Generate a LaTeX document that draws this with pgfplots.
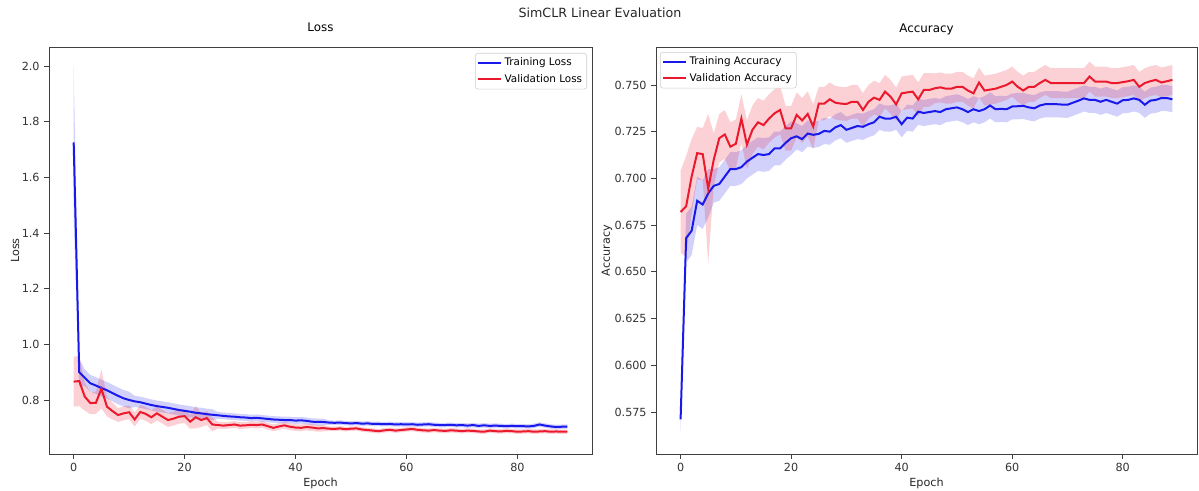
\documentclass[border=0pt]{standalone}
\usepackage{pgfplots}
\pgfplotsset{compat=1.18}
\usepackage{pgfplotstable}
\usepgfplotslibrary{fillbetween}
\usepackage{fontspec}
\setmainfont{DejaVu Sans}

\definecolor{mblue}{RGB}{25,25,235}
\definecolor{mred}{RGB}{235,25,45}

% ep: epoch, tl/vl: train/val loss, ta/va: train/val accuracy, *w: half band
\pgfplotstableread{
ep tl tlw vl vlw ta taw va vaw
0 1.725 0.275 0.866 0.090 0.571 0.008 0.682 0.022
1 0.900 0.050 0.868 0.090 0.668 0.013 0.685 0.027
2 0.880 0.030 0.812 0.050 0.672 0.013 0.701 0.020
3 0.860 0.030 0.789 0.040 0.688 0.013 0.7135 0.014
4 0.852 0.030 0.790 0.040 0.686 0.013 0.713 0.014
5 0.843 0.030 0.840 0.070 0.692 0.013 0.6945 0.040
6 0.835 0.030 0.776 0.035 0.696 0.009 0.710 0.014
7 0.825 0.030 0.760 0.030 0.697 0.009 0.7215 0.013
8 0.815 0.030 0.746 0.025 0.701 0.009 0.7235 0.013
9 0.806 0.030 0.752 0.025 0.705 0.009 0.717 0.013
10 0.800 0.030 0.756 0.025 0.705 0.009 0.7185 0.013
11 0.795 0.020 0.730 0.025 0.706 0.009 0.732 0.013
12 0.792 0.020 0.757 0.025 0.709 0.009 0.718 0.013
13 0.787 0.020 0.750 0.025 0.711 0.009 0.726 0.013
14 0.782 0.020 0.738 0.025 0.713 0.009 0.730 0.013
15 0.778 0.020 0.752 0.025 0.7125 0.009 0.7285 0.013
16 0.775 0.020 0.740 0.025 0.713 0.009 0.732 0.013
17 0.772 0.020 0.728 0.025 0.716 0.009 0.7348 0.013
18 0.768 0.020 0.733 0.025 0.716 0.009 0.7366 0.013
19 0.764 0.020 0.740 0.025 0.719 0.009 0.7268 0.012
20 0.761 0.020 0.742 0.025 0.7215 0.009 0.7268 0.012
21 0.758 0.020 0.722 0.025 0.7225 0.007 0.734 0.012
22 0.754 0.020 0.738 0.040 0.721 0.007 0.731 0.012
23 0.752 0.020 0.728 0.025 0.724 0.007 0.7345 0.012
24 0.749 0.020 0.735 0.025 0.7233 0.007 0.7277 0.012
25 0.747 0.020 0.712 0.025 0.7238 0.007 0.740 0.009
26 0.745 0.012 0.710 0.012 0.7254 0.007 0.740 0.009
27 0.743 0.012 0.708 0.012 0.725 0.007 0.7423 0.009
28 0.741 0.012 0.710 0.012 0.7273 0.007 0.7405 0.009
29 0.740 0.012 0.712 0.012 0.7285 0.007 0.740 0.009
30 0.738 0.012 0.708 0.012 0.726 0.007 0.7398 0.009
31 0.737 0.012 0.709 0.012 0.727 0.007 0.741 0.009
32 0.735 0.012 0.711 0.012 0.728 0.007 0.741 0.009
33 0.736 0.012 0.710 0.012 0.7276 0.007 0.7366 0.009
34 0.734 0.012 0.712 0.012 0.729 0.007 0.741 0.009
35 0.732 0.012 0.706 0.012 0.730 0.007 0.7432 0.009
36 0.730 0.012 0.700 0.012 0.733 0.007 0.742 0.009
37 0.729 0.012 0.705 0.012 0.732 0.007 0.7464 0.009
38 0.728 0.012 0.709 0.012 0.732 0.007 0.7437 0.009
39 0.728 0.012 0.704 0.012 0.733 0.007 0.7396 0.009
40 0.726 0.012 0.701 0.012 0.729 0.007 0.7455 0.009
41 0.727 0.012 0.700 0.012 0.7325 0.007 0.746 0.009
42 0.725 0.012 0.703 0.012 0.732 0.007 0.7464 0.009
43 0.722 0.012 0.701 0.012 0.7357 0.007 0.7423 0.009
44 0.721 0.012 0.698 0.012 0.735 0.007 0.7473 0.009
45 0.721 0.012 0.699 0.012 0.7355 0.007 0.7473 0.009
46 0.719 0.008 0.697 0.008 0.736 0.007 0.7482 0.008
47 0.718 0.008 0.696 0.008 0.7355 0.007 0.7487 0.008
48 0.719 0.008 0.698 0.008 0.737 0.007 0.748 0.008
49 0.717 0.008 0.695 0.008 0.7375 0.007 0.748 0.008
50 0.716 0.008 0.697 0.008 0.738 0.007 0.749 0.008
51 0.717 0.008 0.698 0.008 0.737 0.007 0.749 0.008
52 0.715 0.008 0.694 0.008 0.7355 0.007 0.747 0.008
53 0.716 0.008 0.692 0.008 0.737 0.007 0.7455 0.008
54 0.714 0.008 0.690 0.008 0.736 0.007 0.7513 0.008
55 0.714 0.008 0.688 0.008 0.737 0.007 0.747 0.008
56 0.713 0.008 0.691 0.008 0.739 0.007 0.7475 0.008
57 0.714 0.008 0.693 0.008 0.737 0.007 0.748 0.008
58 0.712 0.008 0.690 0.008 0.7372 0.007 0.749 0.008
59 0.713 0.008 0.692 0.008 0.737 0.007 0.750 0.008
60 0.712 0.008 0.694 0.008 0.7385 0.007 0.7518 0.008
61 0.713 0.008 0.696 0.008 0.7386 0.007 0.749 0.008
62 0.711 0.008 0.693 0.008 0.7388 0.007 0.747 0.008
63 0.712 0.008 0.691 0.008 0.738 0.007 0.749 0.008
64 0.713 0.008 0.690 0.008 0.7375 0.007 0.749 0.008
65 0.711 0.008 0.692 0.008 0.739 0.007 0.751 0.008
66 0.710 0.008 0.690 0.008 0.7397 0.007 0.7527 0.008
67 0.710 0.008 0.689 0.008 0.7397 0.007 0.751 0.008
68 0.711 0.008 0.691 0.008 0.7397 0.007 0.751 0.008
69 0.709 0.008 0.690 0.008 0.7395 0.007 0.751 0.008
70 0.710 0.008 0.688 0.008 0.7394 0.007 0.751 0.008
71 0.708 0.008 0.690 0.008 0.7405 0.007 0.751 0.008
72 0.710 0.008 0.689 0.008 0.7416 0.007 0.751 0.008
73 0.707 0.008 0.687 0.008 0.7428 0.007 0.751 0.008
74 0.709 0.008 0.686 0.008 0.742 0.007 0.7545 0.008
75 0.707 0.008 0.690 0.008 0.742 0.007 0.7518 0.008
76 0.708 0.008 0.688 0.008 0.741 0.007 0.7518 0.008
77 0.707 0.008 0.687 0.008 0.742 0.007 0.7518 0.008
78 0.706 0.008 0.689 0.008 0.741 0.007 0.751 0.008
79 0.707 0.008 0.688 0.008 0.740 0.007 0.751 0.008
80 0.706 0.008 0.686 0.008 0.7418 0.007 0.7515 0.008
81 0.706 0.008 0.687 0.008 0.742 0.007 0.752 0.008
82 0.705 0.008 0.688 0.008 0.7428 0.007 0.7527 0.008
83 0.707 0.008 0.686 0.008 0.742 0.007 0.749 0.008
84 0.712 0.008 0.687 0.008 0.7394 0.007 0.751 0.008
85 0.708 0.008 0.688 0.008 0.7416 0.007 0.752 0.008
86 0.705 0.008 0.686 0.008 0.742 0.007 0.7527 0.008
87 0.703 0.008 0.687 0.008 0.743 0.007 0.7513 0.008
88 0.704 0.008 0.686 0.008 0.743 0.007 0.752 0.008
89 0.704 0.008 0.686 0.008 0.7423 0.007 0.7527 0.008
}\data

\pgfplotsset{
  every axis/.append style={
    scale only axis,
    height=305.25pt,
    xmin=-4.45, xmax=93.45,
    axis line style={black!75, line width=0.6pt},
    tick style={black!75, line width=0.6pt},
    tick align=outside,
    major tick length=3.5pt,
    xtick pos=bottom, ytick pos=left,
    xtick={0,20,40,60,80},
    /pgf/number format/assume math mode=true,
    tick label style={font=\fontsize{8.4}{10}\selectfont, text=black!80},
    label style={font=\fontsize{8.4}{10}\selectfont, text=black!85},
    title style={font=\fontsize{8.9}{10}\selectfont, at={(0.5,1)}, anchor=base, yshift=5.25pt},
    xlabel style={at={(axis description cs:0.5,0)}, anchor=base, yshift=-24.5pt},
    legend style={font=\fontsize{7.8}{9}\selectfont, draw=black!20, rounded corners=2pt,
      inner sep=1.5pt, row sep=1pt},
    legend cell align=left,
    legend image code/.code={\draw[#1] (0pt,0pt) -- (17pt,0pt);},
  }
}

\begin{document}
\begin{tikzpicture}
\begin{axis}[
  width=407.25pt,
  ymin=0.606, ymax=2.068,
  ytick={0.8,1.0,1.2,1.4,1.6,1.8,2.0},
  yticklabel style={/pgf/number format/.cd, fixed, fixed zerofill, precision=1},
  title={Loss}, xlabel={Epoch}, ylabel={Loss},
  ylabel style={at={(axis description cs:-0.0626,0.5)}, anchor=center},
  legend style={at={(1,1)}, anchor=north east, xshift=-3.75pt, yshift=-4.5pt},
]
\addplot[name path=tlu, draw=none, forget plot] table[x=ep, y expr=\thisrow{tl}+\thisrow{tlw}] {\data};
\addplot[name path=tll, draw=none, forget plot] table[x=ep, y expr=\thisrow{tl}-\thisrow{tlw}] {\data};
\addplot[mblue, fill opacity=0.2, draw=none, forget plot] fill between[of=tlu and tll];
\addplot[name path=vlu, draw=none, forget plot] table[x=ep, y expr=\thisrow{vl}+\thisrow{vlw}] {\data};
\addplot[name path=vll, draw=none, forget plot] table[x=ep, y expr=\thisrow{vl}-\thisrow{vlw}] {\data};
\addplot[mred, fill opacity=0.2, draw=none, forget plot] fill between[of=vlu and vll];
\addplot[mblue, line width=1.5pt] table[x=ep, y=tl] {\data};
\addplot[mred, line width=1.5pt] table[x=ep, y=vl] {\data};
\legend{Training Loss, Validation Loss}
\end{axis}

\begin{axis}[
  at={(455.25pt,0pt)},
  width=405.75pt,
  ymin=0.5525, ymax=0.7703,
  ytick={0.575,0.600,0.625,0.650,0.675,0.700,0.725,0.750},
  yticklabel style={/pgf/number format/.cd, fixed, fixed zerofill, precision=3},
  title={Accuracy}, xlabel={Epoch}, ylabel={Accuracy},
  ylabel style={at={(axis description cs:-0.0906,0.5)}, anchor=center},
  legend style={at={(0,1)}, anchor=north west, xshift=3pt, yshift=-3.75pt},
]
\addplot[name path=tau, draw=none, forget plot] table[x=ep, y expr=\thisrow{ta}+\thisrow{taw}] {\data};
\addplot[name path=tal, draw=none, forget plot] table[x=ep, y expr=\thisrow{ta}-\thisrow{taw}] {\data};
\addplot[mblue, fill opacity=0.2, draw=none, forget plot] fill between[of=tau and tal];
\addplot[name path=vau, draw=none, forget plot] table[x=ep, y expr=\thisrow{va}+\thisrow{vaw}] {\data};
\addplot[name path=val, draw=none, forget plot] table[x=ep, y expr=\thisrow{va}-\thisrow{vaw}] {\data};
\addplot[mred, fill opacity=0.2, draw=none, forget plot] fill between[of=vau and val];
\addplot[mblue, line width=1.5pt] table[x=ep, y=ta] {\data};
\addplot[mred, line width=1.5pt] table[x=ep, y=va] {\data};
\legend{Training Accuracy, Validation Accuracy}
\end{axis}

\node[anchor=base, font=\fontsize{9.5}{11}\selectfont, text=black!85] at (413.25pt,327pt) {SimCLR Linear Evaluation};
\pgfresetboundingbox
\useasboundingbox (-36.75pt,-27pt) rectangle (862.5pt,340.5pt);
\end{tikzpicture}
\end{document}
